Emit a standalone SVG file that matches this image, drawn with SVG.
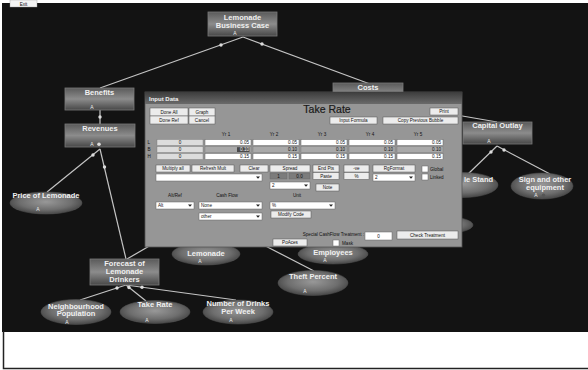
<svg xmlns="http://www.w3.org/2000/svg" width="588" height="370" viewBox="0 0 588 370">
<defs>
<linearGradient id="rg" x1="0" y1="0" x2="0" y2="1">
<stop offset="0" stop-color="#5a5a5a"/><stop offset="0.5" stop-color="#8c8c8c"/><stop offset="1" stop-color="#474747"/>
</linearGradient>
<radialGradient id="eg" cx="0.5" cy="0.45" r="0.6">
<stop offset="0" stop-color="#989898"/><stop offset="0.6" stop-color="#6e6e6e"/><stop offset="1" stop-color="#3c3c3c"/>
</radialGradient>
<linearGradient id="tb" x1="0" y1="0" x2="0" y2="1">
<stop offset="0" stop-color="#3c3c3c"/><stop offset="1" stop-color="#6a6a6a"/>
</linearGradient>
</defs>
<style>
.rn{fill:url(#rg);stroke:#7a7a7a;stroke-width:0.8}
.en{fill:url(#eg);stroke:#555;stroke-width:0.5}
.lb{font-family:"Liberation Sans",Arial,sans-serif;font-weight:bold;font-size:7.5px;fill:#f0f0f0;text-anchor:middle}
.a{font-family:"Liberation Sans",Arial,sans-serif;font-size:5px;fill:#eee;text-anchor:middle}
.ln{stroke:#c4c4c4;stroke-width:1.2;fill:none}
.dt{fill:#dcdcdc}
.btn{fill:#ececec;stroke:#555;stroke-width:0.5}
.bt{font-family:"Liberation Sans",Arial,sans-serif;font-size:4.6px;fill:#111;text-anchor:middle}
.tl{font-family:"Liberation Sans",Arial,sans-serif;font-size:4.6px;fill:#111}
.wf{fill:#fff;stroke:#666;stroke-width:0.5}
.gc{fill:#dcdcdc;stroke:#777;stroke-width:0.4}
.bc{fill:#a9a9a9;stroke:#777;stroke-width:0.4}
.vc{font-family:"Liberation Sans",Arial,sans-serif;font-size:4.6px;fill:#111;text-anchor:end}
.ar{fill:#222}
</style>
<rect x="0" y="0" width="588" height="370" fill="#fff"/>
<rect x="2" y="3" width="586" height="329" fill="#131313"/>
<path d="M3.5 331 V368.5 H588" fill="none" stroke="#222" stroke-width="1.5"/>
<g id="exit"><rect x="10" y="0" width="27" height="7" fill="#f4f4f4" stroke="#999" stroke-width="0.4"/><text x="23.5" y="5.5" class="bt">Exit</text></g>

<g id="connectors">
<line class="ln" x1="243" y1="37" x2="100" y2="88"/>
<line class="ln" x1="243" y1="37" x2="370" y2="84"/>
<line class="ln" x1="100" y1="110" x2="100" y2="124"/>
<line class="ln" x1="100" y1="149" x2="47" y2="192"/>
<line class="ln" x1="100" y1="149" x2="126" y2="259"/>
<line class="ln" x1="127" y1="259" x2="170" y2="234"/>
<line class="ln" x1="314" y1="271" x2="250" y2="238"/>
<line class="ln" x1="126" y1="285" x2="80" y2="300"/>
<line class="ln" x1="126" y1="285" x2="146" y2="301"/>
<line class="ln" x1="126" y1="285" x2="236" y2="300"/>
<line class="ln" x1="370" y1="100" x2="497" y2="122"/>
<line class="ln" x1="497" y1="146" x2="467" y2="175"/>
<line class="ln" x1="497" y1="146" x2="550" y2="174"/>
<circle class="dt" cx="221" cy="45" r="1.7"/>
<circle class="dt" cx="262" cy="44" r="1.7"/>
<circle class="dt" cx="100" cy="117" r="1.7"/>
<circle class="dt" cx="93" cy="155" r="1.7"/>
<circle class="dt" cx="104.5" cy="167" r="1.7"/>
<circle class="dt" cx="117" cy="288" r="1.7"/>
<circle class="dt" cx="129" cy="287.5" r="1.7"/>
<circle class="dt" cx="142" cy="287.3" r="1.7"/>
<circle class="dt" cx="491" cy="152" r="1.7"/>
<circle class="dt" cx="504" cy="150" r="1.7"/>
</g>

<g id="n-business-case"><rect class="rn" x="208" y="12" width="69" height="24"/><text class="lb" x="242.5" y="19.5">Lemonade</text><text class="lb" x="242.5" y="27.5">Business Case</text><text class="a" x="235" y="35">A</text></g>
<g id="n-benefits"><rect class="rn" x="65" y="88" width="69" height="22"/><text class="lb" x="99.5" y="95">Benefits</text><text class="a" x="92" y="108.5">A</text></g>
<g id="n-revenues"><rect class="rn" x="65" y="124" width="70" height="23"/><text class="lb" x="100" y="131">Revenues</text><text class="a" x="92" y="146">A</text><circle cx="99" cy="144.3" r="1.8" fill="#ddd"/></g>
<g id="n-costs"><rect class="rn" x="333" y="83" width="70" height="22"/><text class="lb" x="368" y="90">Costs</text></g>
<g id="n-price"><ellipse class="en" cx="46" cy="203" rx="36" ry="11"/><text class="lb" x="46" y="197.5">Price of Lemonade</text><text class="a" x="38" y="211">A</text></g>
<g id="n-forecast"><rect class="rn" x="90" y="259" width="69" height="26"/><text class="lb" x="124.5" y="266">Forecast of</text><text class="lb" x="124.5" y="274">Lemonade</text><text class="lb" x="124.5" y="282">Drinkers</text></g>
<g id="n-lemonade"><ellipse class="en" cx="206" cy="254" rx="34" ry="11"/><text class="lb" x="206" y="255.5">Lemonade</text><text class="a" x="200" y="263">A</text></g>
<g id="n-employees"><ellipse class="en" cx="333" cy="254" rx="35" ry="10"/><text class="lb" x="333" y="254.5">Employees</text><text class="a" x="325" y="262">A</text></g>
<g id="n-theft"><ellipse class="en" cx="313" cy="283" rx="35" ry="12.5"/><text class="lb" x="313" y="278.5">Theft Percent</text><text class="a" x="305" y="293">A</text></g>
<g id="n-neighbourhood"><ellipse class="en" cx="76" cy="312" rx="35" ry="12.5"/><text class="lb" x="76" y="308.5">Neighbourhood</text><text class="lb" x="76" y="316">Population</text><text class="a" x="67" y="323.5">A</text></g>
<g id="n-takerate"><ellipse class="en" cx="155" cy="312" rx="35" ry="11.5"/><text class="lb" x="155" y="306.5">Take Rate</text><text class="a" x="147" y="321.5">A</text></g>
<g id="n-drinks"><ellipse class="en" cx="238" cy="312" rx="35" ry="12"/><text class="lb" x="238" y="305.5">Number of Drinks</text><text class="lb" x="238" y="313.5">Per Week</text><text class="a" x="231" y="321.5">A</text></g>
<g id="n-capital"><rect class="rn" x="463" y="122" width="69" height="22"/><text class="lb" x="497.5" y="128">Capital Outlay</text><text class="a" x="489" y="142.5">A</text></g>
<g id="n-stand"><ellipse class="en" cx="463" cy="185" rx="35" ry="12.5"/><text class="lb" x="464" y="182" style="text-anchor:start">le Stand</text></g>
<g id="n-sign"><ellipse class="en" cx="542" cy="186" rx="31" ry="13"/><text class="lb" x="545" y="181.5">Sign and other</text><text class="lb" x="545" y="189.5">equipment</text><text class="a" x="536" y="197">A</text><circle cx="543.5" cy="195.3" r="1.8" fill="#555"/></g>
<g id="n-hidden"><ellipse class="en" cx="440" cy="225" rx="33" ry="9"/></g>

<g id="dialog">
<rect x="145" y="92" width="317" height="155" fill="#969696" stroke="#555" stroke-width="0.8"/>
<rect x="145" y="92" width="317" height="12" fill="url(#tb)"/>
<text x="149" y="100.5" style="font-family:'Liberation Sans',Arial,sans-serif;font-weight:bold;font-size:6px;fill:#f2f2f2">Input Data</text>
<rect class="btn" x="150" y="108" width="38" height="8"/><text class="bt" x="169" y="113.8">Done All</text>
<rect class="btn" x="150" y="116" width="38" height="8"/><text class="bt" x="169" y="121.8">Done Ref</text>
<rect class="btn" x="189" y="108" width="26" height="8"/><text class="bt" x="202" y="113.8">Graph</text>
<rect class="btn" x="189" y="116" width="26" height="8"/><text class="bt" x="202" y="121.8">Cancel</text>
<text x="327" y="113" style="font-family:'Liberation Sans',Arial,sans-serif;font-size:10.5px;fill:#1a1a1a;text-anchor:middle;stroke:#1a1a1a;stroke-width:0.2">Take Rate</text>
<rect class="btn" x="430" y="108" width="28" height="7"/><text class="bt" x="444" y="113.3">Print</text>
<rect class="btn" x="330" y="117" width="47" height="7"/><text class="bt" x="353.5" y="122.3">Input Formula</text>
<rect class="btn" x="383" y="117" width="75" height="7"/><text class="bt" x="420.5" y="122.3">Copy Previous Bubble</text>
<text class="bt" x="226" y="135.5">Yr 1</text><text class="bt" x="274" y="135.5">Yr 2</text><text class="bt" x="322" y="135.5">Yr 3</text><text class="bt" x="370" y="135.5">Yr 4</text><text class="bt" x="418" y="135.5">Yr 5</text>
<text class="tl" x="147.5" y="144.3">L</text><text class="tl" x="147.5" y="151.3">B</text><text class="tl" x="147.5" y="158.3">H</text>
<rect class="gc" x="157" y="139.5" width="46" height="6"/><text class="bt" x="180" y="144.3">0</text>
<rect class="gc" x="157" y="146.5" width="46" height="6"/><text class="bt" x="180" y="151.3">0</text>
<rect class="gc" x="157" y="153.5" width="46" height="6"/><text class="bt" x="180" y="158.3">0</text>
<rect class="wf" x="205" y="139.5" width="46" height="6"/><text class="vc" x="249" y="144.3">0.05</text>
<rect class="bc" x="205" y="146.5" width="46" height="6"/><rect x="237" y="147.2" width="12.5" height="4.8" fill="#4a4a4a"/><text class="vc" x="249" y="151.3" style="fill:#eee">0.10</text>
<rect class="wf" x="205" y="153.5" width="46" height="6"/><text class="vc" x="249" y="158.3">0.15</text>
<rect class="wf" x="253" y="139.5" width="46" height="6"/><text class="vc" x="297" y="144.3">0.05</text>
<rect class="bc" x="253" y="146.5" width="46" height="6"/><text class="vc" x="297" y="151.3">0.10</text>
<rect class="wf" x="253" y="153.5" width="46" height="6"/><text class="vc" x="297" y="158.3">0.15</text>
<rect class="wf" x="301" y="139.5" width="46" height="6"/><text class="vc" x="345" y="144.3">0.05</text>
<rect class="bc" x="301" y="146.5" width="46" height="6"/><text class="vc" x="345" y="151.3">0.10</text>
<rect class="wf" x="301" y="153.5" width="46" height="6"/><text class="vc" x="345" y="158.3">0.15</text>
<rect class="wf" x="349" y="139.5" width="46" height="6"/><text class="vc" x="393" y="144.3">0.05</text>
<rect class="bc" x="349" y="146.5" width="46" height="6"/><text class="vc" x="393" y="151.3">0.10</text>
<rect class="wf" x="349" y="153.5" width="46" height="6"/><text class="vc" x="393" y="158.3">0.15</text>
<rect class="wf" x="397" y="139.5" width="46" height="6"/><text class="vc" x="441" y="144.3">0.05</text>
<rect class="bc" x="397" y="146.5" width="46" height="6"/><text class="vc" x="441" y="151.3">0.10</text>
<rect class="wf" x="397" y="153.5" width="46" height="6"/><text class="vc" x="441" y="158.3">0.15</text>
<rect class="btn" x="156" y="165" width="34" height="7"/><text class="bt" x="173" y="170.3">Multiply all</text>
<rect class="btn" x="192" y="165" width="42" height="7"/><text class="bt" x="213" y="170.3">Refresh Mult</text>
<rect class="btn" x="240" y="165" width="28" height="7"/><text class="bt" x="254" y="170.3">Clear</text>
<rect class="btn" x="270" y="165" width="40" height="7"/><text class="bt" x="290" y="170.3">Spread</text>
<rect class="btn" x="313" y="165" width="26" height="7"/><text class="bt" x="326" y="170.3">End Pts</text>
<rect class="btn" x="344" y="165" width="25" height="7"/><text class="bt" x="356.5" y="170.3">-ve</text>
<rect class="btn" x="373" y="165" width="42" height="7"/><text class="bt" x="394" y="170.3">RgFormat</text>
<rect class="wf" x="422" y="166" width="6" height="6"/><text class="tl" x="430" y="170.8">Global</text>
<rect class="wf" x="156" y="174" width="106" height="7"/><path class="ar" d="M256 176.6 h4 l-2 2.2z"/>
<rect x="270" y="173" width="17" height="6" fill="#7c7c7c" stroke="#666" stroke-width="0.4"/><text class="bt" x="278.5" y="177.6">1</text>
<rect x="289" y="173" width="21" height="6" fill="#7c7c7c" stroke="#666" stroke-width="0.4"/><text class="bt" x="299.5" y="177.6">0.0</text>
<rect class="btn" x="313" y="172.5" width="26" height="7"/><text class="bt" x="326" y="177.8">Paste</text>
<rect class="btn" x="344" y="172.5" width="25" height="7"/><text class="bt" x="356.5" y="177.8">%</text>
<rect class="wf" x="373" y="174" width="42" height="7"/><text class="tl" x="375" y="179.2">2</text><path class="ar" d="M409 176.6 h4 l-2 2.2z"/>
<rect class="wf" x="422" y="174" width="6" height="6"/><text class="tl" x="430" y="178.8">Linked</text>
<rect class="wf" x="270" y="182" width="40" height="7"/><text class="tl" x="272" y="187.2">2</text><path class="ar" d="M304 184.6 h4 l-2 2.2z"/>
<rect class="btn" x="316" y="184" width="23" height="7"/><text class="bt" x="327.5" y="189.3">Note</text>
<text class="bt" x="175" y="197">Alt/Ref</text><text class="bt" x="227" y="197">Cash Flow</text><text class="bt" x="297" y="197">Unit</text>
<rect class="wf" x="156" y="202" width="38" height="7"/><text class="tl" x="158" y="207.2">Alt</text><path class="ar" d="M188 204.6 h4 l-2 2.2z"/>
<rect class="wf" x="199" y="202" width="63" height="7"/><text class="tl" x="201" y="207.2">None</text><path class="ar" d="M256 204.6 h4 l-2 2.2z"/>
<rect class="wf" x="270" y="202" width="65" height="7"/><text class="tl" x="272" y="207.2">%</text><path class="ar" d="M329 204.6 h4 l-2 2.2z"/>
<rect class="wf" x="199" y="213" width="63" height="7"/><text class="tl" x="201" y="218.2">other</text><path class="ar" d="M256 215.6 h4 l-2 2.2z"/>
<rect class="btn" x="271" y="211" width="40" height="7"/><text class="bt" x="291" y="216.3">Modify Code</text>
<text class="tl" x="364" y="235.5" style="text-anchor:end">Special CashFlow Treatment :</text>
<rect class="wf" x="365" y="232" width="27" height="8"/><text class="bt" x="378.5" y="237.8">0</text>
<rect class="btn" x="397" y="231" width="61" height="8"/><text class="bt" x="427.5" y="236.8">Check Treatment</text>
<rect class="btn" x="273" y="239" width="34" height="7"/><text class="bt" x="290" y="244.3">PoAces</text>
<rect class="wf" x="333" y="240" width="6" height="6"/><text class="tl" x="342" y="245">Mask</text>
</g>
</svg>
